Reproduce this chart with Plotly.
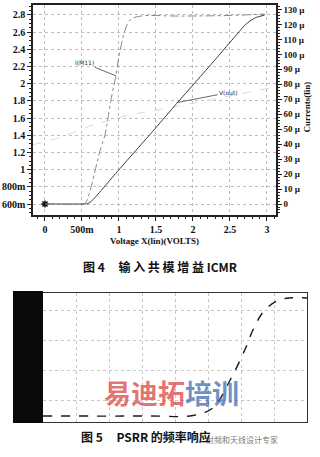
import plotly.graph_objects as go

W, H = 320, 457

# ---------- Figure 4 data (ICMR) ----------
vin = [0, 0.3, 0.5, 0.56, 0.6, 0.65, 1.0, 1.45, 1.78, 2.26, 2.7, 2.77, 2.85, 2.97]
vout = [0.6, 0.6, 0.6, 0.602, 0.615, 0.65, 1.0, 1.44, 1.77, 2.24, 2.68, 2.73, 2.77, 2.80]

vin_i = [0, 0.5, 0.55, 0.61, 0.70, 0.74, 0.81, 0.85, 0.905, 0.96, 0.99, 1.03, 1.08, 1.15, 1.28, 1.82, 2.5, 2.97]
i_m11 = [0, 0, 1, 9, 27, 35, 46, 57, 73, 86, 96, 106, 116, 123, 125.5, 125.6, 126, 127]  # µA

vin_faint = [-0.16, 0.2, 0.61, 1.15, 1.69, 2.23, 2.77, 3.04]
v_faint = [1.29, 1.37, 1.51, 1.64, 1.72, 1.81, 1.90, 1.95]

left_ticks = [0.6, 0.8, 1.0, 1.2, 1.4, 1.6, 1.8, 2.0, 2.2, 2.4, 2.6, 2.8]
left_labels = ["600m", "800m", "1", "1.2", "1.4", "1.6", "1.8", "2", "2.2", "2.4", "2.6", "2.8"]
right_ticks = [0, 10, 20, 30, 40, 50, 60, 70, 80, 90, 100, 110, 120, 130]
right_labels = ["0"] + [f"{v} µ" for v in right_ticks[1:]]
x_ticks = [0, 0.5, 1, 1.5, 2, 2.5, 3]
x_labels = ["0", "500m", "1", "1.5", "2", "2.5", "3"]

# ---------- Figure 5 data (PSRR) ----------
freq = [1, 1.7e3, 3.5e4, 1.4e5, 4.7e5, 1.3e6, 2.3e6, 4.7e6, 1.2e7, 3.0e7, 1e8]
psrr = [6, 6, 6.5, 14, 42, 72, 92, 110, 121, 124, 124]

serif = "Liberation Serif"
cjk = "Noto Sans CJK SC"
sp = "&nbsp;"

fig = go.Figure()

fig.add_trace(go.Scatter(x=vin_faint, y=v_faint, mode="lines",
                         line=dict(color="#dadada", width=1, dash="dash"),
                         xaxis="x", yaxis="y", showlegend=False, hoverinfo="skip"))
fig.add_trace(go.Scatter(x=vin_i, y=i_m11, mode="lines",
                         line=dict(color="#8a8a8a", width=1, dash="dashdot", shape="spline"),
                         xaxis="x", yaxis="y2", showlegend=False))
fig.add_trace(go.Scatter(x=vin, y=vout, mode="lines",
                         line=dict(color="#3a3a3a", width=1, shape="spline", smoothing=0.3),
                         xaxis="x", yaxis="y", showlegend=False))
fig.add_trace(go.Scatter(x=[vin[0]], y=[vout[0]], mode="markers",
                         marker=dict(symbol="asterisk", size=6, color="#111",
                                     line=dict(color="#111", width=1.5)),
                         xaxis="x", yaxis="y", showlegend=False))

fig.add_trace(go.Scatter(x=freq, y=psrr, mode="lines",
                         line=dict(color="#1a1a1a", width=1.4, dash="dash", shape="spline"),
                         xaxis="x3", yaxis="y3", showlegend=False))

tickfont = dict(family=serif, size=10, color="#111", weight="bold")
tickfont_r = dict(family=serif, size=9, color="#111", weight="bold")

fig.update_layout(
    width=W, height=H, margin=dict(l=0, r=0, t=0, b=0),
    paper_bgcolor="white", plot_bgcolor="white",
    xaxis=dict(domain=[33 / W, 276 / W], range=[-0.162, 3.122],
               tickvals=x_ticks, ticktext=x_labels, tickfont=tickfont,
               ticks="outside", ticklen=4, tickcolor="#222",
               minor=dict(ticks="outside", ticklen=2, dtick=0.1, tickcolor="#222", showgrid=False),
               showline=True, linecolor="#222", linewidth=1.5, mirror=True,
               showgrid=True, gridcolor="#bdbdbd", griddash="dot", gridwidth=1,
               zeroline=False,
               title=dict(text="Voltage X(lin)(VOLTS)",
                          font=dict(family=serif, size=9, color="#111", weight="bold"),
                          standoff=4),
               anchor="y"),
    yaxis=dict(domain=[1 - 215 / H, 1 - 5 / H], range=[0.472, 2.916],
               tickvals=left_ticks, ticktext=left_labels, tickfont=tickfont,
               ticks="outside", ticklen=4, tickcolor="#222",
               minor=dict(ticks="outside", ticklen=2, dtick=0.05, tickcolor="#222", showgrid=False),
               showline=True, linecolor="#222", linewidth=1.5,
               showgrid=True, gridcolor="#bdbdbd", griddash="dot", gridwidth=1,
               zeroline=False, anchor="x"),
    yaxis2=dict(overlaying="y", side="right", anchor="x",
                range=[-7.35, 133.0],
                tickvals=right_ticks, ticktext=right_labels, tickfont=tickfont_r,
                ticks="outside", ticklen=4, tickcolor="#222",
                minor=dict(ticks="outside", ticklen=2, dtick=2, tickcolor="#222"),
                showline=True, linecolor="#222", linewidth=1.5,
                showgrid=False, zeroline=False),
    xaxis3=dict(domain=[43 / W, 307 / W], type="log", range=[0, 8],
                tickvals=[10, 100, 1e3, 1e4, 1e5, 1e6, 1e7], showticklabels=False,
                ticks="", showline=True, linecolor="#333", linewidth=1, mirror=True,
                showgrid=True, gridcolor="#c8c8c8", griddash="dot",
                zeroline=False, anchor="y3"),
    yaxis3=dict(domain=[1 - 422 / H, 1 - 293 / H], range=[0, 129],
                tickvals=[22, 52, 82, 112], showticklabels=False, ticks="",
                showline=True, linecolor="#333", linewidth=1, mirror=True,
                showgrid=True, gridcolor="#c8c8c8", griddash="dot",
                zeroline=False, anchor="x3"),
)

# black block on the left of figure 5
fig.add_shape(type="rect", xref="paper", yref="paper",
              x0=13 / W, x1=43 / W, y0=1 - 423 / H, y1=1 - 291 / H,
              fillcolor="#0a0a0a", line=dict(width=0), layer="above")

# curve labels
fig.add_annotation(x=0.96, y=85.6, xref="x", yref="y2", text="I(M11)",
                   showarrow=True, arrowhead=0, arrowwidth=0.8, arrowcolor="#444",
                   ax=-32, ay=-13, font=dict(family="DejaVu Sans", size=6, color="#333"))
fig.add_annotation(x=1.78, y=1.78, xref="x", yref="y", text="V(out)",
                   showarrow=True, arrowhead=0, arrowwidth=0.8, arrowcolor="#444",
                   ax=52, ay=-10, font=dict(family="DejaVu Sans", size=6, color="#333"))

# right axis title
fig.add_annotation(x=313 / W, y=1 - 80 / H, xref="paper", yref="paper",
                   text="Currents(lin)", textangle=-90, showarrow=False,
                   font=dict(family=serif, size=9, color="#111", weight="bold"))

# captions
cap4 = "图 4" + sp * 5 + sp.join("输入共模增益") + sp + "ICMR"
fig.add_annotation(x=160 / W, y=1 - 266 / H, xref="paper", yref="paper",
                   text=cap4, showarrow=False,
                   font=dict(family=cjk, size=12, color="#111", weight="bold"))

# watermark
fig.add_annotation(x=241 / W, y=1 - 414 / H, xref="paper", yref="paper",
                   text="<span style='color:rgba(220,70,70,0.75)'>易迪拓</span>"
                        "<span style='color:rgba(60,110,180,0.75)'>培训</span>",
                   showarrow=False,
                   font=dict(family=cjk, size=27, weight="bold"))
fig.add_annotation(x=280 / W, y=1 - 447 / H, xref="paper", yref="paper",
                   text="射频和天线设计专家", showarrow=False,
                   font=dict(family=cjk, size=8, color="rgba(90,90,90,0.85)"))

cap5 = "图 5" + sp * 5 + "PSRR" + sp + "的频率响应"
fig.add_annotation(x=146 / W, y=1 - 447 / H, xref="paper", yref="paper",
                   text=cap5, showarrow=False,
                   font=dict(family=cjk, size=12, color="#111", weight="bold"))

fig.write_html("out.html")
